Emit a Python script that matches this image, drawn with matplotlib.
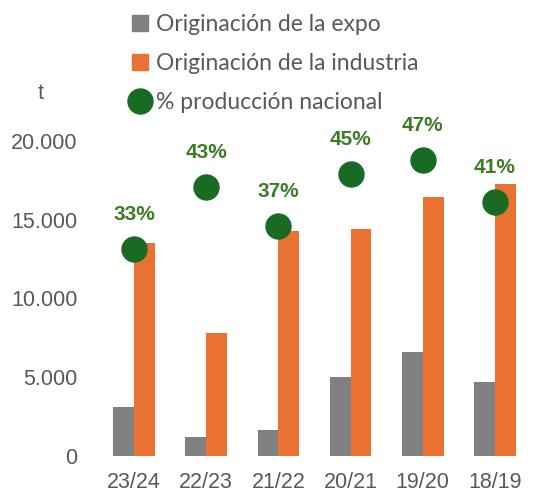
import matplotlib
matplotlib.use("Agg")
import matplotlib.pyplot as plt
import numpy as np
from matplotlib.patches import Patch
from matplotlib.lines import Line2D

campanias = ["23/24", "22/23", "21/22", "20/21", "19/20", "18/19"]
expo = [3080, 1190, 1610, 4980, 6610, 4660]
industria = [13530, 7820, 14260, 14380, 16420, 17280]
pct_nacional = [0.329, 0.426, 0.365, 0.447, 0.469, 0.403]
pct_labels = ["33%", "43%", "37%", "45%", "47%", "41%"]

gris = "#808080"
naranja = "#E97132"
verde = "#196B24"
verde_txt = "#3B7D23"
texto = "#595959"

fig = plt.figure(figsize=(5.39, 4.96), dpi=100)
ax = fig.add_axes([0.182, 0.0813, 0.803, 0.730])

x = np.arange(len(campanias))
w = 0.29
ax.bar(x - w / 2, expo, w, color=gris, label="Originación de la expo")
ax.bar(x + w / 2, industria, w, color=naranja, label="Originación de la industria")
ax.set_xlim(-0.5, len(campanias) - 0.5)
ax.set_ylim(0, 23000)

# eje secundario para el porcentaje (0.5 <-> 20.000)
ax2 = ax.twinx()
ax2.set_ylim(0, 23000 / 40000)
ax2.plot(x, pct_nacional, "o", ms=18, color=verde, label="% producción nacional")
for xi, p, lab in zip(x, pct_nacional, pct_labels):
    ax2.annotate(lab, (xi, p), xytext=(0, 18), textcoords="offset points",
                 ha="center", va="bottom", fontsize=15, fontweight="bold",
                 color=verde_txt, family="Liberation Sans")
ax2.axis("off")

ax.set_yticks([0, 5000, 10000, 15000, 20000])
ax.set_yticklabels(["0", "5.000", "10.000", "15.000", "20.000"])
ax.set_xticks(x)
ax.set_xticklabels(campanias)
for lab in ax.get_xticklabels() + ax.get_yticklabels():
    lab.set_family("Liberation Sans")
    lab.set_fontsize(15.5)
    lab.set_color(texto)
ax.tick_params(length=0)
ax.tick_params(axis="y", pad=15)
ax.tick_params(axis="x", pad=12)
for s in ax.spines.values():
    s.set_visible(False)

fig.text(0.075, 0.812, "t", fontsize=15.5, color=texto, family="Liberation Sans",
         ha="center", va="center")

handles = [
    Patch(color=gris, label="Originación de la expo"),
    Patch(color=naranja, label="Originación de la industria"),
    Line2D([], [], marker="o", ls="", ms=18, color=verde, label="% producción nacional"),
]
fig.legend(handles=handles, loc="upper left", bbox_to_anchor=(0.228, 0.99),
           frameon=False, handlelength=0.7, handleheight=0.7, handletextpad=0.35,
           labelspacing=0.78, borderaxespad=0,
           prop={"family": "Lato", "size": 16.5}, labelcolor=texto)

fig.savefig("out.png", dpi=100)
